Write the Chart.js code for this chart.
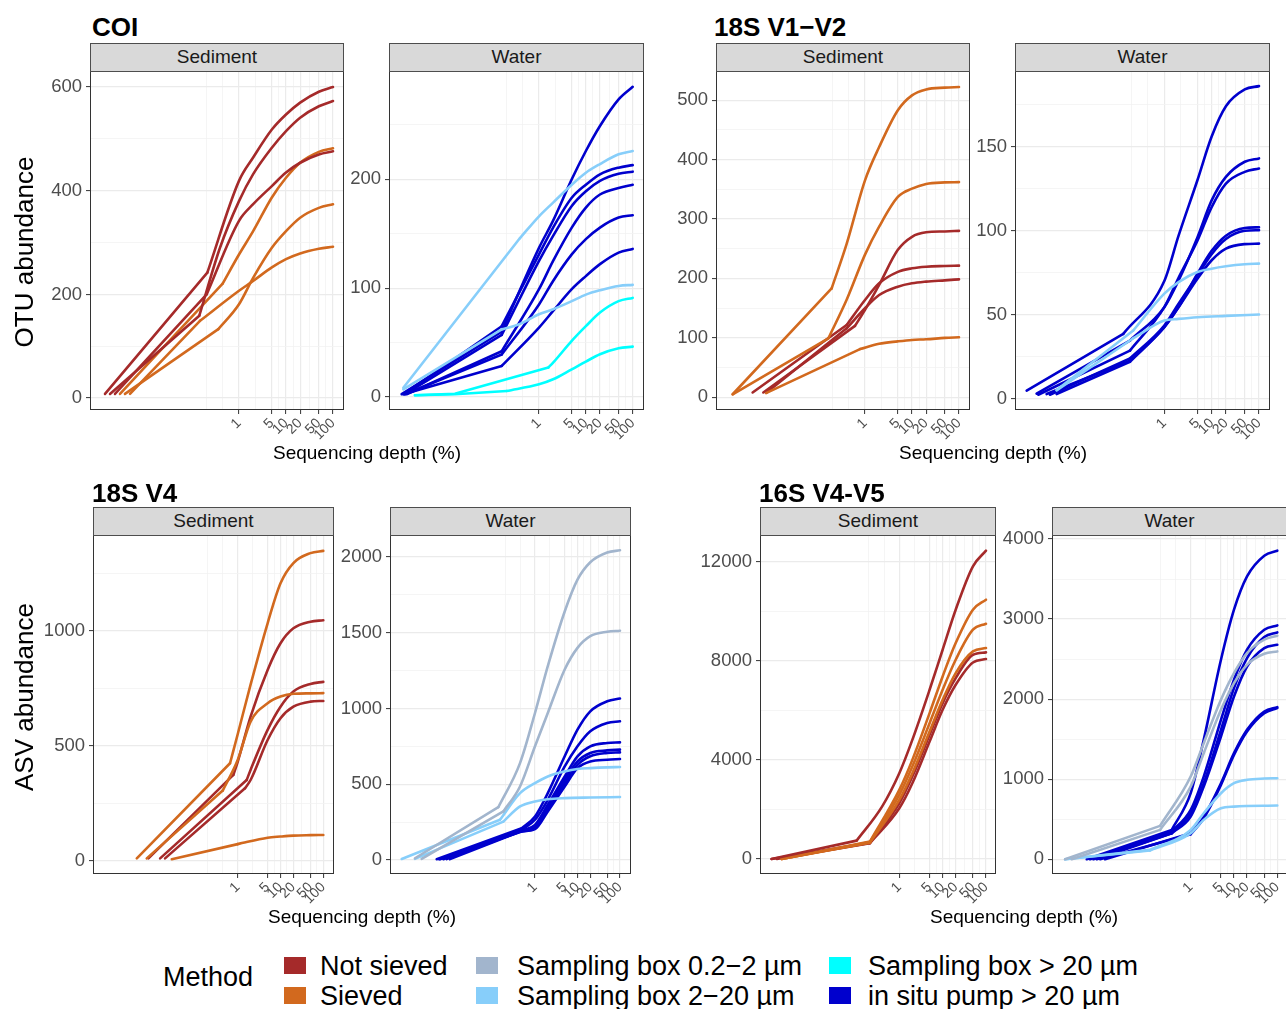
<!DOCTYPE html>
<html><head><meta charset="utf-8">
<script src="https://cdn.jsdelivr.net/npm/chart.js@4.4.1/dist/chart.umd.min.js"></script>
<style>
body{margin:0;width:1286px;height:1009px;overflow:hidden;background:#fff;font-family:"Liberation Sans",Arial,sans-serif;position:relative}
.abs{position:absolute;white-space:nowrap}
.title{font-weight:bold;font-size:26px;line-height:26px;color:#000}
.strip{position:absolute;background:#D9D9D9;border:1px solid #4d4d4d;box-sizing:border-box;text-align:center;font-size:19px;line-height:26px;color:#1a1a1a}
.xt{font-size:19px;line-height:19px;color:#000;transform:translateX(-50%)}
.yt{font-size:26px;line-height:26px;color:#000;transform:translate(-50%,-50%) rotate(-90deg)}
.lg{font-size:27px;line-height:27px;color:#000}
.sw{position:absolute;width:22px;height:17px}
canvas{position:absolute}
</style></head>
<body>
<script>
// ---------- shared axis / legend definitions ----------
const X_MAJOR = [1, 5, 10, 20, 50, 100];
const X_MINOR = [0.2, 0.447, 2.236, 7.071, 14.14, 31.62, 70.71];
const METHODS = ['Not sieved','Sieved','Sampling box 0.2\u22122 \u00b5m','Sampling box 2\u221220 \u00b5m','Sampling box > 20 \u00b5m','in situ pump > 20 \u00b5m'];
const METHOD_COLORS = ['#A52A2A','#D2691E','#A2B5CD','#87CEFA','#00FFFF','#0000CD'];
const NS='Not sieved', SV='Sieved', G=METHODS[2], LB=METHODS[3], CY=METHODS[4], BP=METHODS[5];

// ---------- COI Sediment ----------
const COI_SED_METHOD = [NS,NS,NS,SV,SV,SV];
const COI_SED_DEPTH = [
  [0.00141,0.212,1,2,5,10,20,50,100],
  [0.0018,0.143,0.394,1,2,5,10,20,50,100],
  [0.0023,0.205,1,2,5,10,20,50,100],
  [0.00294,0.449,1,2,5,10,20,50,100],
  [0.00375,0.363,1,2,5,10,20,50,100],
  [0.0048,0.148,1,2,5,10,20,50,100]];
const COI_SED_OTU = [
  [8,242,419,464,518,547,570,591,600],
  [8,159,290,380,432,483,515,541,563,573],
  [8,200,342,374,409,435,454,470,476],
  [8,221,277,322,387,425,454,475,482],
  [8,133,181,232,290,322,348,367,374],
  [8,149,207,226,252,268,279,288,292]];

// ---------- COI Water ----------
const COI_WAT_METHOD = [LB,LB,CY,CY,BP,BP,BP,BP,BP,BP];
const COI_WAT_DEPTH = [
  [0.00127,0.393,1,2,5,10,20,50,100],
  [0.00127,0.16,0.393,1,2,5,10,20,50,100],
  [0.00225,0.016,1.58,2,5,10,20,50,100],
  [0.00225,0.016,0.204,1,2,5,10,20,50,100],
  [0.00117,0.16,1,2,5,10,20,50,100],
  [0.00127,0.16,1,2,5,10,20,50,100],
  [0.00138,0.16,1,2,5,10,20,50,100],
  [0.00149,0.16,1,2,5,10,20,50,100],
  [0.00138,0.16,1,2,5,10,20,50,100],
  [0.00127,0.16,1,2,5,10,20,50,100]];
const COI_WAT_OTU = [
  [8.5,146,166,178.6,195,206,214,223,226],
  [7,62,67,76,80.5,88,94,98,102,103],
  [1.5,3,27,31.5,51.5,65,77.5,88,91],
  [1.5,2.5,5.5,11.6,16.2,25.4,32.5,39.2,44.7,46.2],
  [2.5,60,137,162,200,226,249,273.5,285],
  [2.5,65,131,155.6,183,195,204.6,210.7,213],
  [2.5,57,125,148,175.5,189,198.5,205,207],
  [2.5,42,99,125,155.6,174,186,192,195],
  [2.5,39,85,106.6,131,145,155.6,164.8,167],
  [2.5,28.5,63.7,79,99,111,122,132.6,136]];

// ---------- 18S V1-V2 Sediment ----------
const V12_SED_METHOD = [SV,SV,SV,NS,NS,NS];
const V12_SED_DEPTH = [
  [0.00153,0.195,0.407,1,2,5,10,20,50,100],
  [0.00153,0.166,0.407,1,2,5,10,20,50,100],
  [0.00783,0.783,2,5,10,20,50,100],
  [0.00687,0.612,1,2,5,10,20,50,100],
  [0.00407,0.407,1,2,5,10,20,50,100],
  [0.00809,0.407,1,2,5,10,20,50,100]];
const V12_SED_OTU = [
  [5,183,258,365,421,483,508,518,521,522],
  [5,99,164,240,287,337,351,359,361.5,362],
  [7,81,90,94,96.4,97.5,99.8,101],
  [8,120,147,189,248,270,277.5,279,280],
  [8,121.6,163.7,191.7,211,217,219.7,220.8,221.4],
  [8,116,149.7,172,186,191.7,194.5,196.7,198.4]];

// ---------- 18S V1-V2 Water ----------
const V12_WAT_METHOD = [LB,LB,BP,BP,BP,BP,BP,BP];
const V12_WAT_DEPTH = [
  [0.00531,0.221,1,2,5,10,20,50,100],
  [0.00531,0.221,1,2,5,20,100],
  [0.00124,0.136,1,2,5,10,20,50,100],
  [0.00201,0.188,1,2,5,10,20,50,100],
  [0.00218,0.188,1,2,5,10,20,50,100],
  [0.00327,0.188,1,2,5,10,20,50,100],
  [0.00384,0.188,1,2,5,10,20,50,100],
  [0.00531,0.188,1,2,5,10,20,50,100]];
const V12_WAT_OTU = [
  [5.2,40.6,62.5,69.4,75.4,77.4,78.8,80,80.4],
  [5,36,46.5,47.5,48.5,49.3,50.1],
  [4.8,38.6,70,97,130,156,174,184,186],
  [3,34.6,54.5,70.4,96,118,132,141,143],
  [2.4,28.6,54.5,72,94,114,128,135,137],
  [2.8,22.7,42.6,54.5,74.4,88,97,101.6,102],
  [2.4,24,43.6,56.5,73.4,86,95,99.9,100.3],
  [2.8,22,42.6,54.5,71.4,82.4,89.3,92,92.3]];

// ---------- 18S V4 Sediment ----------
const V4_SED_METHOD = [SV,SV,SV,NS,NS,NS];
const V4_SED_DEPTH = [
  [0.00439,0.662,1,2,5,10,20,50,100],
  [0.0075,0.447,1,2,5,10,20,50,100],
  [0.0288,1,5,10,20,50,100],
  [0.0082,0.792,1,2,5,10,20,50,100],
  [0.0154,1.62,2,5,10,20,50,100],
  [0.0201,1.48,2,5,10,20,50,100]];
const V4_SED_ASV = [
  [10,424,550,766,1033,1207,1295,1338,1348],
  [10,305,438,605,685,714,726,728,729],
  [6,72,100,105,109,111,112],
  [10,373,430,627,830,946,1011,1040,1046],
  [10,351,395,569,670,736,769,778],
  [10,315,351,525,620,670,692,695]];

// ---------- 18S V4 Water ----------
const V4_WAT_METHOD = [G,G,LB,LB,BP,BP,BP,BP,BP,BP];
const V4_WAT_DEPTH = [
  [0.0015,0.137,0.444,1,2,5,10,20,50,100],
  [0.00215,0.18,0.444,1,2,5,10,20,50,100],
  [0.00073,0.15,0.444,1,2,5,10,20,50,100],
  [0.0015,0.18,0.444,1,2,5,20,100],
  [0.00485,0.486,1,2,5,10,20,50,100],
  [0.00582,0.486,1,2,5,10,20,50,100],
  [0.00697,0.486,1,2,5,10,20,50,100],
  [0.00835,0.486,1,2,5,10,20,50,100],
  [0.01,0.486,1,2,5,10,20,50,100],
  [0.0055,0.486,1,2,5,10,20,50,100]];
const V4_WAT_ASV = [
  [11,348,639,970,1279,1640,1850,1965,2029,2044],
  [7,320,485,750,970,1257,1400,1477,1506,1513],
  [6,265,441,507,551,584,600,606,611,613],
  [7,253,353,386,401,408,412,415],
  [5,209,287,441,684,860,981,1047,1065],
  [5,198,265,397,617,750,849,904,915],
  [5,194,231,364,551,684,750,772,776],
  [5,192,220,342,529,650,706,723,728],
  [5,190,209,331,507,628,684,706,710],
  [5,188,203,320,485,606,650,661,666]];

// ---------- 16S V4-V5 Sediment ----------
const S16_SED_METHOD = [NS,SV,SV,SV,NS,NS];
const S16_SED_DEPTH = [
  [0.00113,0.1036,0.4,1,2,5,10,20,50,100],
  [0.00193,0.21,1,2,5,10,20,50,100],
  [0.00193,0.21,1,2,5,10,20,50,100],
  [0.00193,0.21,1,2,5,10,20,50,100],
  [0.00113,0.21,1,2,5,10,20,50,100],
  [0.0015,0.21,1,2,5,10,20,50,100]];
const S16_SED_ASV = [
  [0,741,2117,3465,4813,6836,8454,10071,11824,12458],
  [0,701,2791,4004,5892,7375,8723,10071,10476],
  [0,680,2589,3735,5487,6836,8049,9263,9505],
  [0,660,2386,3465,5150,6431,7510,8386,8521],
  [0,650,2252,3330,5016,6296,7308,8251,8346],
  [0,640,2049,3061,4746,6027,7038,7941,8076]];

// ---------- 16S V4-V5 Water ----------
const S16_WAT_METHOD = [G,G,LB,LB,BP,BP,BP,BP,BP,BP];
const S16_WAT_DEPTH = [
  [0.00126,0.196,1,2,5,10,20,50,100],
  [0.00179,0.196,1,2,5,10,20,50,100],
  [0.00126,0.115,1,2,5,10,20,50,100],
  [0.00126,0.115,1,2,5,10,100],
  [0.00398,0.365,1,2,5,10,20,50,100],
  [0.00475,0.365,1,2,5,10,20,50,100],
  [0.00568,0.365,1,2,5,10,20,50,100],
  [0.00678,0.365,1,2,5,10,20,50,100],
  [0.01055,1,2,5,10,20,50,100],
  [0.0081,1,2,5,10,20,50,100]];
const S16_WAT_ASV = [
  [0,417,1033,1450,1992,2325,2575,2742,2792],
  [0,367,908,1325,1867,2200,2429,2567,2596],
  [0,117,367,575,825,950,992,1008,1012],
  [0,110,325,492,637,658,671],
  [0,367,825,1492,2492,3117,3533,3792,3854],
  [0,346,617,1033,1742,2242,2617,2867,2921],
  [0,325,575,950,1617,2138,2513,2775,2833],
  [0,325,533,908,1533,2033,2408,2638,2679],
  [0,325,533,950,1325,1617,1846,1900],
  [0,312,512,929,1304,1596,1825,1888]];

// ---------- y tick sets ----------
const Y_COI_SED = {major:[0,200,400,600], minor:[100,300,500]};
const Y_COI_WAT = {major:[0,100,200], minor:[50,150,250]};
const Y_V12_SED = {major:[0,100,200,300,400,500], minor:[50,150,250,350,450]};
const Y_V12_WAT = {major:[0,50,100,150], minor:[25,75,125,175]};
const Y_V4_SED = {major:[0,500,1000], minor:[250,750,1250]};
const Y_V4_WAT = {major:[0,500,1000,1500,2000], minor:[250,750,1250,1750]};
const Y_S16_SED = {major:[0,4000,8000,12000], minor:[2000,6000,10000]};
const Y_S16_WAT = {major:[0,1000,2000,3000,4000], minor:[500,1500,2500,3500]};

// ---------- drawing ----------
const framePlugin = {
  id:'frame',
  afterDraw(chart){
    const a = chart.chartArea, c = chart.ctx;
    c.save(); c.strokeStyle='#333333'; c.lineWidth=1;
    c.strokeRect(a.left+0.5, a.top+0.5, a.right-a.left-1, a.bottom-a.top-1);
    c.restore();
  }
};

function tickList(major, minor){
  return major.map(v=>({value:v, major:true})).concat(minor.map(v=>({value:v, major:false}))).sort((a,b)=>a.value-b.value);
}

function panel(p){
  const PT=16, PR=8, YW=70, XH=60;
  const w = YW + p.W + PR, h = PT + p.H + XH;
  const c = document.createElement('canvas');
  c.width = w; c.height = h;
  c.style.left = (p.L - YW) + 'px'; c.style.top = (p.T - PT) + 'px';
  c.style.width = w + 'px'; c.style.height = h + 'px';
  document.body.appendChild(c);
  const datasets = [];
  p.methods.forEach((m,i)=>{
    const col = METHOD_COLORS[METHODS.indexOf(m)];
    const pts = p.depths[i].map((d,j)=>({x:d, y:p.values[i][j]}));
    // early rarefaction steps are joined by straight segments up to the first point >= 0.1 %
    let k = pts.findIndex(pt => pt.x >= 0.1);
    if (k < 1) k = 1;
    const base = {label:m, borderColor:col, backgroundColor:col, borderWidth:2.6, pointRadius:0, fill:false,
                  borderCapStyle:'round', borderJoinStyle:'round'};
    datasets.push(Object.assign({}, base, {data: pts.slice(0, k+1), tension:0}));
    datasets.push(Object.assign({}, base, {data: pts.slice(k), cubicInterpolationMode:'monotone'}));
  });
  const gridColor = ctx => (ctx.tick && ctx.tick.major) ? '#EBEBEB' : '#F3F3F3';
  const gridWidth = ctx => (ctx.tick && ctx.tick.major) ? 1.2 : 0.8;
  const tickColor = ctx => (ctx.tick && ctx.tick.major) ? '#333333' : 'rgba(0,0,0,0)';
  new Chart(c, {
    type:'line',
    data:{datasets},
    options:{
      responsive:false, animation:false, devicePixelRatio:1,
      layout:{padding:{top:PT, right:PR, left:0, bottom:0}},
      plugins:{legend:{display:false}, tooltip:{enabled:false}},
      scales:{
        x:{
          type:'logarithmic', min:p.xmin, max:p.xmax, bounds:'data',
          afterBuildTicks: ax => { ax.ticks = tickList(X_MAJOR, X_MINOR); },
          afterFit: ax => { ax.height = XH; ax.paddingLeft = 0; ax.paddingRight = 0; },
          grid:{color:gridColor, lineWidth:gridWidth, tickColor:tickColor, tickWidth:1, tickLength:4, drawTicks:true},
          border:{display:false},
          ticks:{
            autoSkip:false, maxRotation:45, minRotation:45, padding:1,
            color:'#4D4D4D', font:{family:'"Liberation Sans", Arial, sans-serif', size:14},
            callback:(v,i,t)=> t[i].major ? String(t[i].value) : ''
          }
        },
        y:{
          type:'linear', min:p.ymin, max:p.ymax, bounds:'data',
          afterBuildTicks: ax => { ax.ticks = tickList(p.yt.major, p.yt.minor); },
          afterFit: ax => { ax.width = YW; ax.paddingTop = 0; ax.paddingBottom = 0; },
          grid:{color:gridColor, lineWidth:gridWidth, tickColor:tickColor, tickWidth:1, tickLength:4, drawTicks:true},
          border:{display:false},
          ticks:{
            autoSkip:false, padding:4,
            color:'#4D4D4D', font:{family:'"Liberation Sans", Arial, sans-serif', size:18.5},
            callback:(v,i,t)=> t[i].major ? String(t[i].value) : ''
          }
        }
      }
    },
    plugins:[framePlugin]
  });
}

function addDiv(cls, text, left, top, extra){
  const d = document.createElement('div');
  d.className = cls; d.textContent = text;
  d.style.left = left + 'px'; d.style.top = top + 'px';
  if (extra) Object.assign(d.style, extra);
  document.body.appendChild(d);
  return d;
}

function strip(text, L, T, W){
  const d = document.createElement('div');
  d.className = 'strip'; d.textContent = text;
  d.style.left = L + 'px'; d.style.top = (T - 28) + 'px';
  d.style.width = W + 'px'; d.style.height = '29px';
  document.body.appendChild(d);
}

const PANELS = [
  {name:'Sediment', L:90,  T:71,  W:254, H:339, xmin:0.000676, xmax:171.4, ymin:-23,  ymax:631,  yt:Y_COI_SED, methods:COI_SED_METHOD, depths:COI_SED_DEPTH, values:COI_SED_OTU},
  {name:'Water',    L:389, T:71,  W:255, H:339, xmin:0.000628, xmax:174.2, ymin:-12,  ymax:299.5,yt:Y_COI_WAT, methods:COI_WAT_METHOD, depths:COI_WAT_DEPTH, values:COI_WAT_OTU},
  {name:'Sediment', L:716, T:71,  W:254, H:339, xmin:0.000676, xmax:171.4, ymin:-21.5,ymax:549,  yt:Y_V12_SED, methods:V12_SED_METHOD, depths:V12_SED_DEPTH, values:V12_SED_OTU},
  {name:'Water',    L:1015,T:71,  W:255, H:339, xmin:0.000703, xmax:170.6, ymin:-6.7, ymax:195,  yt:Y_V12_WAT, methods:V12_WAT_METHOD, depths:V12_WAT_DEPTH, values:V12_WAT_OTU},
  {name:'Sediment', L:93,  T:535, W:241, H:339, xmin:0.000416, xmax:177.8, ymin:-58,  ymax:1417, yt:Y_V4_SED,  methods:V4_SED_METHOD,  depths:V4_SED_DEPTH,  values:V4_SED_ASV},
  {name:'Water',    L:390, T:535, W:241, H:339, xmin:0.000387, xmax:181.6, ymin:-93,  ymax:2145, yt:Y_V4_WAT,  methods:V4_WAT_METHOD,  depths:V4_WAT_DEPTH,  values:V4_WAT_ASV},
  {name:'Sediment', L:760, T:535, W:236, H:339, xmin:0.000612, xmax:170.2, ymin:-607, ymax:13090,yt:Y_S16_SED, methods:S16_SED_METHOD, depths:S16_SED_DEPTH, values:S16_SED_ASV},
  {name:'Water',    L:1052,T:535, W:235, H:339, xmin:0.000627, xmax:167.5, ymin:-184, ymax:4050, yt:Y_S16_WAT, methods:S16_WAT_METHOD, depths:S16_WAT_DEPTH, values:S16_WAT_ASV}
];

PANELS.forEach(p => { panel(p); strip(p.name, p.L, p.T, p.W); });

// titles
addDiv('abs title','COI',92,14);
addDiv('abs title','18S V1\u2212V2',714,14);
addDiv('abs title','18S V4',92,480);
addDiv('abs title','16S V4-V5',759,480);
// axis titles
addDiv('abs xt','Sequencing depth (%)',367,443);
addDiv('abs xt','Sequencing depth (%)',993,443);
addDiv('abs xt','Sequencing depth (%)',362,907);
addDiv('abs xt','Sequencing depth (%)',1024,907);
addDiv('abs yt','OTU abundance',24,252);
addDiv('abs yt','ASV abundance',24,697);
// legend
addDiv('abs lg','Method',163,964);
const LG_POS = [[284,320,957],[284,320,987],[476,517,957],[476,517,987],[829,868,957],[829,868,987]];
METHODS.forEach((m,i)=>{
  const [sx,tx,sy] = LG_POS[i];
  const s = document.createElement('div');
  s.className='sw'; s.style.left=sx+'px'; s.style.top=sy+'px'; s.style.background=METHOD_COLORS[i];
  document.body.appendChild(s);
  addDiv('abs lg', m, tx, sy-4);
});
</script>
</body></html>
